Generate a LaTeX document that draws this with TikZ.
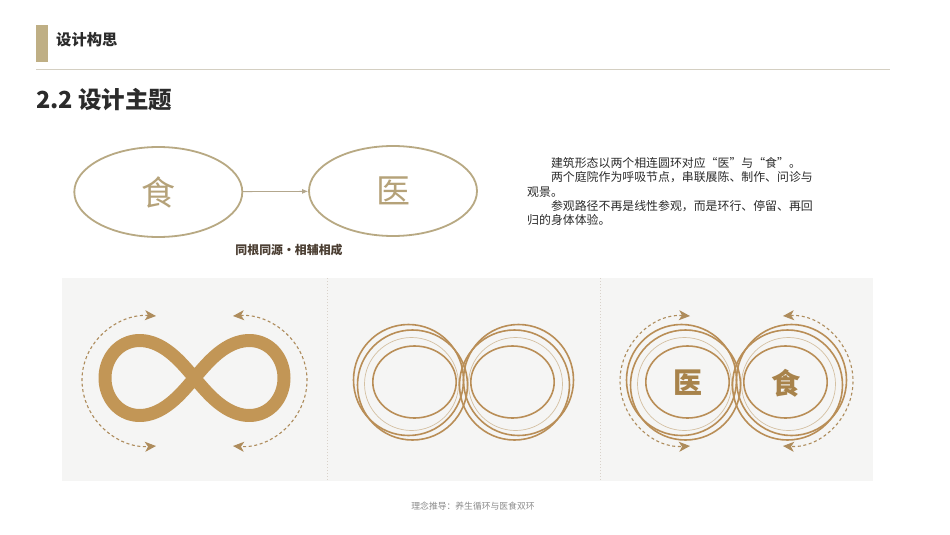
\documentclass[tikz,border=0pt]{standalone}
\usepackage{fontspec}
\setmainfont{Noto Sans CJK SC}
\usetikzlibrary{arrows.meta,positioning,shapes.geometric}

\definecolor{barGold}{HTML}{BFAF85}
\definecolor{ruleGray}{HTML}{D4CFC2}
\definecolor{ovalLine}{HTML}{B8A983}
\definecolor{ovalText}{HTML}{B5A279}
\definecolor{linkGray}{HTML}{B3A78D}
\definecolor{darkText}{HTML}{2B2B2B}
\definecolor{brownText}{HTML}{4A3D31}
\definecolor{panelBg}{HTML}{F5F5F4}
\definecolor{divGray}{HTML}{D9D2CA}
\definecolor{loopGold}{HTML}{C29656}
\definecolor{ringGold}{HTML}{B98E57}
\definecolor{ringLight}{HTML}{D4C0A2}
\definecolor{dashBrown}{HTML}{AE8C5C}
\definecolor{charGold}{HTML}{A8834B}
\definecolor{capGray}{HTML}{8A8A8A}

\tikzset{
  oval/.style={draw=ovalLine, line width=1.8pt, ellipse, minimum width=168pt,
    minimum height=90pt, inner sep=0pt, text=ovalText,
    font=\fontsize{34}{36}\selectfont},
  link/.style={draw=linkGray, line width=0.8pt, -{Latex[length=6pt,width=5pt]}},
  para/.style={anchor=west, inner sep=0pt, text=darkText,
    font=\fontsize{11.9}{14}\selectfont},
  ring/.style={draw=ringGold, line width=1.6pt},
  ringthin/.style={draw=ringLight, line width=0.7pt},
  ringchar/.style={text=charGold, font=\bfseries\fontsize{29}{31}\selectfont},
  flow/.style={draw=dashBrown, line width=1.1pt, dash pattern=on 3pt off 2.6pt,
    {Stealth[length=11pt,width=10pt,inset=3pt]}-{Stealth[length=11pt,width=10pt,inset=3pt]}}
}

\begin{document}
\begin{tikzpicture}[x=1pt,y=-1pt]
  \useasboundingbox (0,0) rectangle (950,535);
  \fill[white] (0,0) rectangle (950,535);

  % header
  \fill[barGold] (36,25) rectangle (48,62);
  \node[anchor=west, inner sep=0pt, text=darkText,
    font=\bfseries\fontsize{15.3}{18}\selectfont] (head) at (56,40) {设计构思};
  \draw[ruleGray, line width=1.4pt] (36,69.5) -- (890,69.5);
  \node[anchor=west, inner sep=0pt, text=darkText,
    font=\bfseries\fontsize{23.5}{28}\selectfont] (title) at (36,100) {2.2 设计主题};

  % two ovals
  \node[oval] (shi) at (158.3,192) {食};
  \node[oval] (yi) at (393,191) {医};
  \draw[link] (shi) -- (yi);
  \node[text=brownText, inner sep=0pt, font=\bfseries\fontsize{11.9}{14}\selectfont]
    (motto) at (289,250) {同根同源・相辅相成};

  % paragraph
  \node[para] (p1) at (550.8,163.3) {建筑形态以两个相连圆环对应“医”与“食”。};
  \node[para] (p2) at (550.8,177.5) {两个庭院作为呼吸节点，串联展陈、制作、问诊与};
  \node[para] (p3) at (527,191.7) {观景。};
  \node[para] (p4) at (550.8,205.9) {参观路径不再是线性参观，而是环行、停留、再回};
  \node[para] (p5) at (527,220.1) {归的身体体验。};

  % panels
  \fill[panelBg] (62,278) rectangle (873,481);
  \draw[divGray, line width=0.8pt, dash pattern=on 1pt off 2pt] (327,278) -- (327,481);
  \draw[divGray, line width=0.8pt, dash pattern=on 1pt off 2pt] (600,278) -- (600,481);

  % panel 1: thick loop
  \draw[loopGold, line width=13pt, line join=round]
    plot[domain=0:360, samples=241, smooth cycle]
    ({194.5+89.5*cos(\x)/(1+sin(\x)^2)}, {378+106*sin(\x)*cos(\x)/(1+sin(\x)^2)});

  \coordinate (a1t) at (156,316);
  \coordinate (a1l) at (82,380);
  \coordinate (a1b) at (156,446);
  \coordinate (a2t) at (233,316);
  \coordinate (a2r) at (307,380);
  \coordinate (a2b) at (233,446);
  \draw[flow] (a1t) to[out=176,in=90] (a1l) to[out=-90,in=184] (a1b);
  \draw[flow] (a2t) to[out=4,in=90] (a2r) to[out=-90,in=-4] (a2b);

  % panels 2 and 3: double rings
  \foreach \cx in {463.5,736.5}{
    \begin{scope}[shift={(\cx,381)}]
      \foreach \s in {-1,1}{
        \draw[ring] (\s*55,-1) ellipse [x radius=55pt, y radius=55.5pt];
        \draw[ring] (\s*51,4) ellipse [x radius=55pt, y radius=55pt];
        \draw[ringthin] (\s*52,3) ellipse [x radius=47pt, y radius=46.5pt];
        \draw[ring] (\s*49,1) ellipse [x radius=41.7pt, y radius=36pt];
      }
    \end{scope}
  }

  % panel 3: labels and flow
  \node[ringchar] (yiR) at (687.5,383) {医};
  \node[ringchar] (shiR) at (785.5,383) {食};
  \coordinate (b1t) at (690,316);
  \coordinate (b1l) at (620,381);
  \coordinate (b1b) at (690,446);
  \coordinate (b2t) at (783,316);
  \coordinate (b2r) at (853,381);
  \coordinate (b2b) at (783,446);
  \draw[flow] (b1t) to[out=176,in=90] (b1l) to[out=-90,in=184] (b1b);
  \draw[flow] (b2t) to[out=4,in=90] (b2r) to[out=-90,in=-4] (b2b);

  % caption
  \node[text=capGray, inner sep=0pt, font=\fontsize{8.8}{10}\selectfont]
    (cap) at (473,506) {理念推导：养生循环与医食双环};
\end{tikzpicture}
\end{document}
